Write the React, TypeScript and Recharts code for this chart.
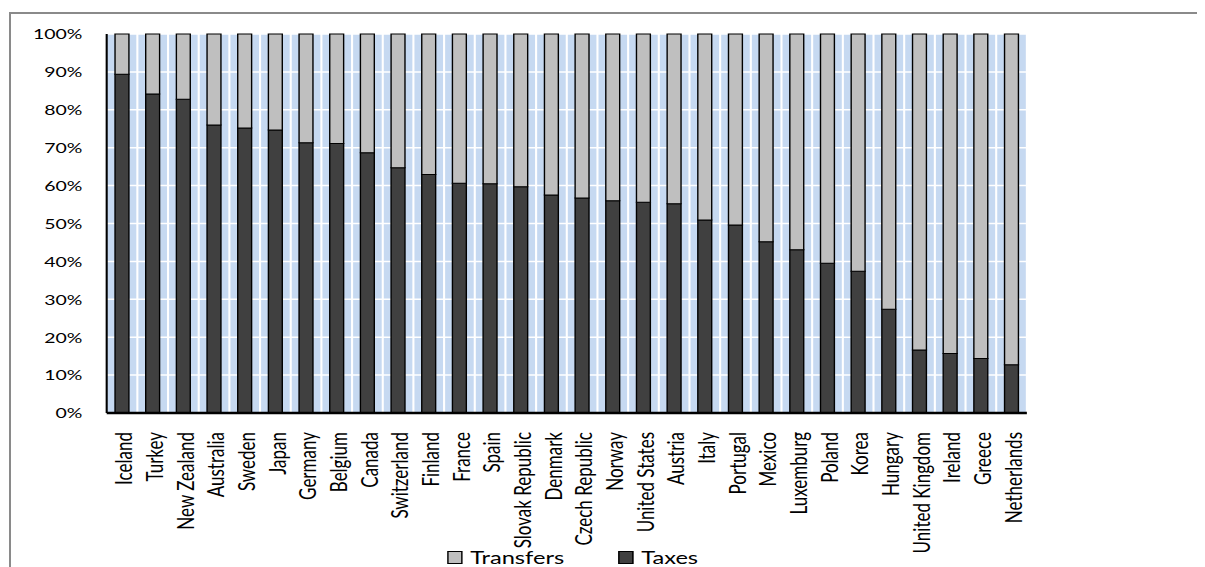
import React from "react";
import {
  BarChart,
  Bar,
  XAxis,
  YAxis,
  CartesianGrid,
} from "recharts";

// countries, ordered as in the source chart
const countries = [
  "Iceland", "Turkey", "New Zealand", "Australia", "Sweden", "Japan",
  "Germany", "Belgium", "Canada", "Switzerland", "Finland", "France",
  "Spain", "Slovak Republic", "Denmark", "Czech Republic", "Norway",
  "United States", "Austria", "Italy", "Portugal", "Mexico", "Luxemburg",
  "Poland", "Korea", "Hungary", "United Kingdom", "Ireland", "Greece",
  "Netherlands",
];

// share of redistribution done through taxes (%)
const taxes = [
  89.4, 84.2, 82.8, 76.0, 75.2, 74.7, 71.3, 71.1, 68.7, 64.7, 62.9, 60.6,
  60.5, 59.7, 57.5, 56.7, 56.0, 55.6, 55.2, 50.9, 49.6, 45.2, 43.1, 39.5,
  37.4, 27.4, 16.6, 15.7, 14.4, 12.7,
];

// remainder goes through transfers
const transfers = taxes.map((t) => +(100 - t).toFixed(1));

const yTicks = [0, 10, 20, 30, 40, 50, 60, 70, 80, 90, 100];

const seriesNames = ["Transfers", "Taxes"];
const seriesColors = ["#BFBFBF", "#404040"];

const data = countries.map((country, i) => ({
  country,
  Taxes: taxes[i],
  Transfers: transfers[i],
}));

// the source picture is stretched sideways; draw narrow and scale the whole thing
const STRETCH = 1.39;
const CHART_W = 861;
const CHART_H = 559;
const FONT = "Lato, 'Open Sans', sans-serif";

function CountryTick(props: any) {
  const { x, y, payload } = props;
  return (
    <text
      x={0}
      y={0}
      transform={`translate(${x + 0.8},${y + 17}) rotate(-90)`}
      textAnchor="end"
      dominantBaseline="central"
      fontFamily={FONT}
      fontSize={17}
      fill="#000"
    >
      {payload.value}
    </text>
  );
}

function PercentTick(props: any) {
  const { x, y, payload } = props;
  return (
    <text
      x={x - 15.5}
      y={y}
      textAnchor="end"
      dominantBaseline="central"
      fontFamily={FONT}
      fontSize={14}
      fill="#000"
    >
      {payload.value}%
    </text>
  );
}

export default function App() {
  const legendLeft = [316, 439];

  return (
    <div
      style={{
        position: "relative",
        width: 1197,
        height: 559,
        overflow: "hidden",
        background: "#fff",
      }}
    >
      <div
        style={{
          position: "absolute",
          left: 0,
          top: 0,
          width: CHART_W,
          height: CHART_H,
          transform: `scaleX(${STRETCH})`,
          transformOrigin: "0 0",
        }}
      >
        <BarChart
          width={CHART_W}
          height={CHART_H}
          data={data}
          margin={{ top: 26, right: 128, left: 0, bottom: 0 }}
          barSize={10}
        >
          <CartesianGrid
            fill="#C6D9F1"
            fillOpacity={1}
            stroke="#FFFFFF"
            strokeWidth={1.5}
            verticalCoordinatesGenerator={({ offset }: any) =>
              countries.map(
                (_, i) => offset.left + ((i + 1) * offset.width) / countries.length
              )
            }
          />
          <XAxis
            dataKey="country"
            interval={0}
            height={154}
            tickLine={false}
            tickSize={0}
            tick={<CountryTick />}
            axisLine={{ stroke: "#000", strokeWidth: 2.5 }}
          />
          <XAxis
            xAxisId="top"
            dataKey="country"
            orientation="top"
            height={0}
            tick={false}
            tickLine={false}
            axisLine={{ stroke: "#000", strokeWidth: 1 }}
          />
          <YAxis
            domain={[0, 100]}
            ticks={yTicks}
            width={71}
            tickLine={false}
            tickSize={0}
            tick={<PercentTick />}
            axisLine={{ stroke: "#000", strokeWidth: 1.5 }}
          />
          <YAxis
            yAxisId="right"
            orientation="right"
            width={0}
            tick={false}
            tickLine={false}
            axisLine={{ stroke: "#000", strokeWidth: 1.5 }}
          />
          <Bar
            dataKey="Taxes"
            stackId="a"
            fill="#404040"
            stroke="#000"
            strokeWidth={1}
            isAnimationActive={false}
          />
          <Bar
            dataKey="Transfers"
            stackId="a"
            fill="#BFBFBF"
            stroke="#000"
            strokeWidth={1}
            isAnimationActive={false}
          />
        </BarChart>

        {/* legend */}
        {seriesNames.map((name, i) => (
          <div
            key={name}
            style={{
              position: "absolute",
              left: legendLeft[i],
              top: 538,
              height: 22,
              display: "flex",
              alignItems: "center",
              fontFamily: FONT,
              fontSize: 17,
              color: "#000",
            }}
          >
            <div
              style={{
                width: 9,
                height: 11,
                border: "1px solid #000",
                background: seriesColors[i],
                marginRight: 5.5,
              }}
            />
            <span>{name}</span>
          </div>
        ))}
      </div>

      {/* outer chart frame, runs off the page on the right and bottom */}
      <div
        style={{
          position: "absolute",
          left: 1,
          top: 4,
          width: 1300,
          height: 2,
          background: "#8a8a8a",
        }}
      />
      <div
        style={{
          position: "absolute",
          left: 1,
          top: 4,
          width: 2,
          height: 700,
          background: "#8a8a8a",
        }}
      />
    </div>
  );
}
